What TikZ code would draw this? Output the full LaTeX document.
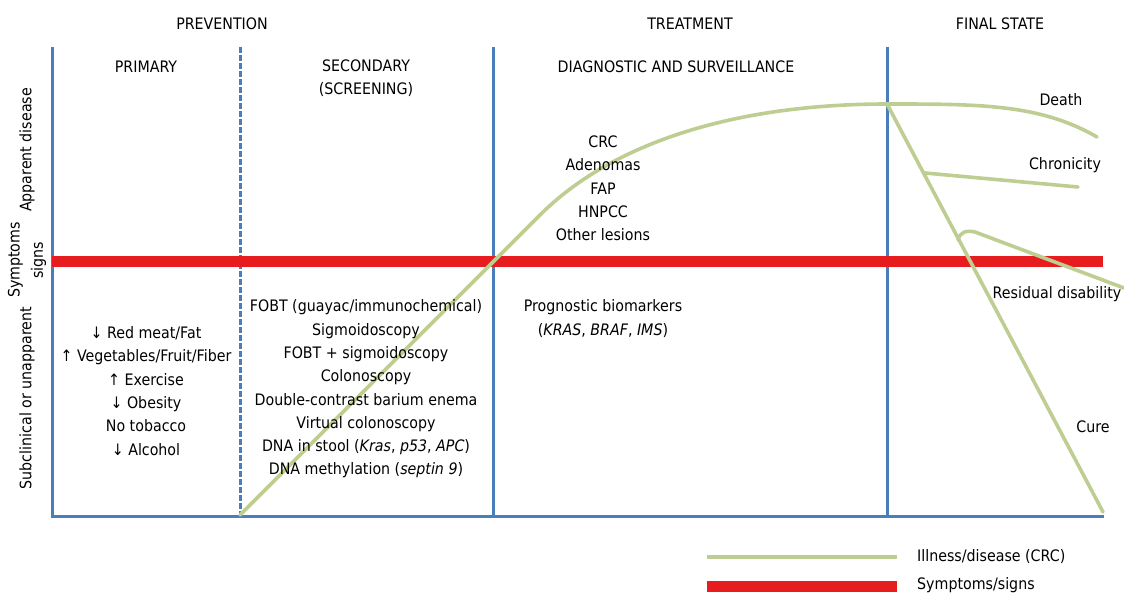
\documentclass[tikz,border=0pt]{standalone}
\usepackage{fontspec}
\setmainfont{DejaVu Sans}[FakeStretch=0.9]
\definecolor{axisblue}{RGB}{74,126,187}
\definecolor{illgreen}{RGB}{190,206,146}
\definecolor{symred}{RGB}{230,28,30}
\begin{document}
\begin{tikzpicture}[x=1pt,y=-1pt,
  axisline/.style={draw=axisblue, line width=3pt},
  phasedash/.style={draw=axisblue, line width=3pt, dash pattern=on 6pt off 2pt},
  redband/.style={draw=symred, line width=11pt},
  illness/.style={draw=illgreen, line width=3.6pt, line cap=round, line join=round},
  lbl/.style={font=\fontsize{15.8}{23.3}\selectfont, align=center, inner sep=0pt},
  head/.style={font=\fontsize{15.8}{23.3}\selectfont, inner sep=0pt}]
\useasboundingbox (0,0) rectangle (1124,592);

% frame corners and phase borders
\coordinate (top0) at (52,47);
\coordinate (org) at (52,516);
\coordinate (end) at (1104,516);
\coordinate (d1t) at (240,47);
\coordinate (d1b) at (240,516);
\coordinate (d2t) at (493,47);
\coordinate (d2b) at (493,516);
\coordinate (d3t) at (887,47);
\coordinate (d3b) at (887,516);

\draw[axisline] (top0) -- (org) -- (end);
\draw[phasedash] (d1t) -- (d1b);
\draw[axisline] (d2t) -- (d2b);
\draw[axisline] (d3t) -- (d3b);

% clinical horizon
\coordinate (hl) at (52,261);
\coordinate (hr) at (1103,261);
\draw[redband] (hl) -- (hr);

% course of the illness
\coordinate (onset) at (240,515);
\coordinate (rise) at (540,215);
\coordinate (peak) at (887,104);
\coordinate (deathend) at (1097,137);
\coordinate (cureend) at (1103,512);
\coordinate (chronstart) at (925,173);
\coordinate (chronend) at (1078,187);
\coordinate (resstart) at (958,240);
\coordinate (resend) at (1124,288);

\draw[illness] (onset) -- (rise) .. controls (610,145) and (730,104) .. (peak);
\draw[illness] (peak) .. controls (980,104) and (1040,104) .. (deathend);
\draw[illness] (peak) -- (cureend);
\draw[illness] (chronstart) -- (chronend);
\draw[illness] (resstart) .. controls (960,232) and (966,230) .. (975,232) -- (resend);

% phase headings
\node[head] (prev) at (222,24) {PREVENTION};
\node[head] (treat) at (690,24) {TREATMENT};
\node[head] (final) at (1000,24) {FINAL STATE};
\node[head] (prim) at (146,67) {PRIMARY};
\node[lbl] (sec) at (366,78) {SECONDARY\\(SCREENING)};
\node[head] (diag) at (676,67) {DIAGNOSTIC AND SURVEILLANCE};

% vertical axis labels
\node[lbl, rotate=90] (apparent) at (27,150) {Apparent disease};
\node[lbl, rotate=90] (symp) at (27,260) {Symptoms\\signs};
\node[lbl, rotate=90] (subcl) at (27,398) {Subclinical or unapparent};

% interventions
\node[lbl] (primlist) at (146,391) {↓ Red meat/Fat\\↑ Vegetables/Fruit/Fiber\\↑ Exercise\\↓ Obesity\\No tobacco\\↓ Alcohol};
\node[lbl] (seclist) at (366,389) {FOBT (guayac/immunochemical)\\Sigmoidoscopy\\FOBT + sigmoidoscopy\\Colonoscopy\\Double-contrast barium enema\\Virtual colonoscopy\\DNA in stool (\textit{Kras}, \textit{p53}, \textit{APC})\\DNA methylation (\textit{septin 9})};
\node[lbl] (lesions) at (603,188.5) {CRC\\Adenomas\\FAP\\HNPCC\\Other lesions};
\node[lbl] (progn) at (603,318.5) {Prognostic biomarkers\\(\textit{KRAS}, \textit{BRAF}, \textit{IMS})};

% outcomes
\node[head] (death) at (1061,100) {Death};
\node[head] (chron) at (1065,165) {Chronicity};
\node[head] (resid) at (1057,294) {Residual disability};
\node[head] (cure) at (1093,427) {Cure};

% legend
\coordinate (lg1a) at (707,557);
\coordinate (lg1b) at (897,557);
\coordinate (lg2a) at (707,586);
\coordinate (lg2b) at (897,586);
\draw[draw=illgreen, line width=4pt] (lg1a) -- (lg1b);
\draw[redband] (lg2a) -- (lg2b);
\node[head, anchor=west] (lgill) at (917,557) {Illness/disease (CRC)};
\node[head, anchor=west] (lgsym) at (917,585) {Symptoms/signs};
\end{tikzpicture}
\end{document}
